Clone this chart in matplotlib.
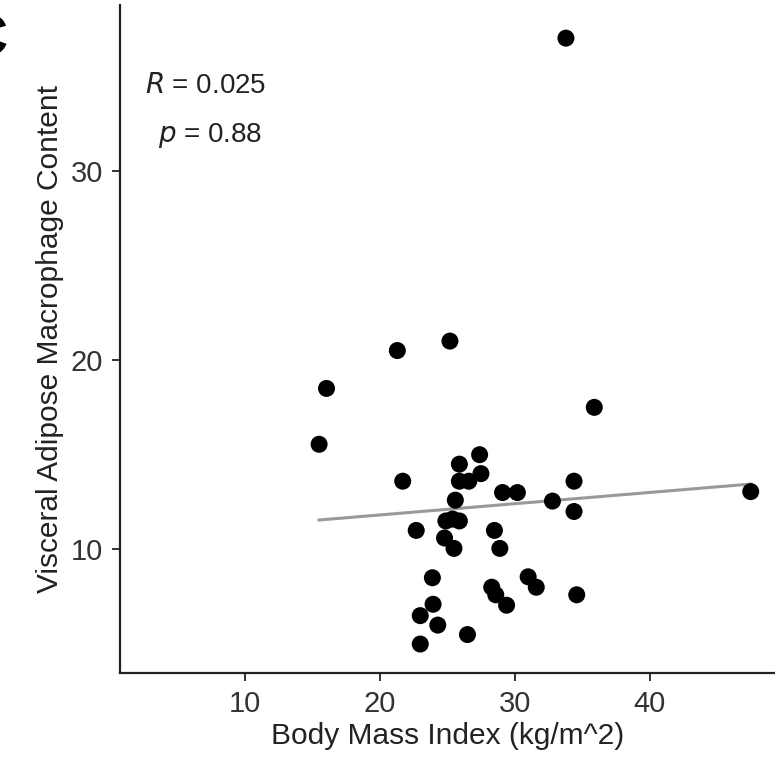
import numpy as np
import matplotlib
matplotlib.use("Agg")
from matplotlib import pyplot as plt

plt.rcParams['font.family'] = ['Liberation Sans', 'DejaVu Sans']

# body mass index vs visceral adipose macrophage content
bmi = [25.2, 21.3, 16.05, 15.5, 35.9, 21.7, 27.4, 25.9, 27.5, 25.9, 26.6, 29.1,
       30.2, 34.4, 25.6, 32.8, 34.4, 24.9, 25.4, 25.9, 22.7, 28.5, 24.8, 25.5,
       28.9, 23.9, 31.0, 31.6, 28.3, 28.6, 29.4, 34.6, 23.95, 23.0, 24.3, 26.5,
       23.0, 33.8, 47.5]
macro = [21.0, 20.5, 18.5, 15.55, 17.5, 13.6, 15.0, 14.5, 14.0, 13.6, 13.6, 13.0,
         13.0, 13.6, 12.6, 12.55, 12.0, 11.5, 11.6, 11.5, 11.0, 11.0, 10.6, 10.05,
         10.05, 8.5, 8.55, 8.0, 8.0, 7.6, 7.05, 7.6, 7.1, 6.5, 6.0, 5.5,
         5.0, 37.0, 13.05]

# fitted line ends
fit_x = [15.5, 47.5]
fit_y = [11.55, 13.45]

stat_r = "0.025"
stat_p = "0.88"

fig = plt.figure(figsize=(7.75, 7.68), dpi=100)
ax = fig.add_axes([120/775, 95/768, 655/775, 668/768])

ax.plot(fit_x, fit_y, color="#999999", lw=2.2, zorder=1)
ax.scatter(bmi, macro, s=150, color="black", edgecolors="none", zorder=2)

ax.set_xlim(0.74, 49.3)
ax.set_ylim(3.47, 38.75)
ax.set_xticks([10, 20, 30, 40])
ax.set_yticks([10, 20, 30])
for side in ["top", "right"]:
    ax.spines[side].set_visible(False)
for side in ["left", "bottom"]:
    ax.spines[side].set_linewidth(1.6)
    ax.spines[side].set_color("#222222")
ax.tick_params(length=6, width=1.4, color="#333333", labelsize=21,
               labelcolor="#333333", pad=6)

ax.set_xlabel("Body Mass Index (kg/m^2)", fontsize=21.5, color="#222222", labelpad=3)
ax.set_ylabel("Visceral Adipose Macrophage Content", fontsize=21.5, color="#222222",
              labelpad=5)

fig.text(206/775, 1 - 86/768, "$R$ = " + stat_r, fontsize=20, ha="center",
         va="center", color="#222222")
fig.text(210/775, 1 - 136/768, "$p$ = " + stat_p, fontsize=20, ha="center",
         va="center", color="#222222")

# panel letter, cut at the left edge as in the source
fig.text(8/775, 1 - 41/768, "C", fontsize=42, fontweight="bold", ha="right",
         va="center")

fig.savefig("out.png", dpi=100)
